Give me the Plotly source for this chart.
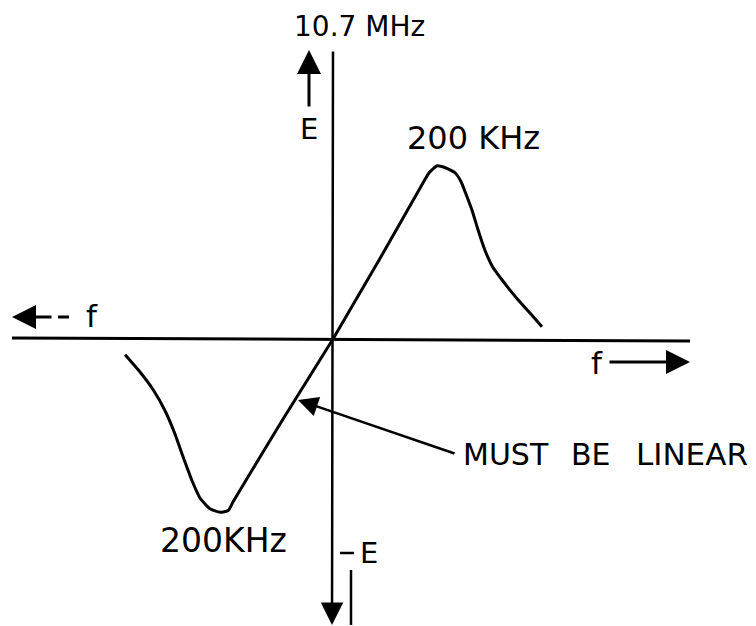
import plotly.graph_objects as go

# ---- data: discriminator S-curve (frequency offset from 10.7 MHz in kHz, normalized output E)
upper_f = [0, 87, 170, 178, 193, 207, 226, 237, 246, 257, 269, 281, 296, 315, 341, 370, 387]
upper_e = [0, 0.46, 0.91, 0.95, 0.99, 0.98, 0.95, 0.90, 0.83, 0.74, 0.62, 0.51, 0.41, 0.33, 0.23, 0.13, 0.07]
lower_f = [-385, -357, -333, -311, -293, -278, -261, -246, -228, -209, -194, -185, -93, 0]
lower_e = [-0.09, -0.19, -0.29, -0.41, -0.54, -0.67, -0.81, -0.91, -0.97, -0.99, -0.98, -0.93, -0.46, 0]

center_label = "10.7 MHz"
peak_label = "200 KHz"
trough_label = "200KHz"
note_words = ["MUST", "BE", "LINEAR"]

# ---- layout geometry (window pixel frame of the 756x626 page)
W, H = 756, 626
OFF = 8                  # default page margin around the plot div
PX0, PY0 = 333, 339      # origin pixel
SX, SY = 0.54, 175.0     # px per kHz, px per unit E


def X(px):
    return (px - PX0) / SX


def Y(py):
    return (PY0 - py) / SY


FONT = "DejaVu Sans, sans-serif"
LW = 3

fig = go.Figure()
for fx, ey in ((upper_f, upper_e), (lower_f, lower_e)):
    fig.add_trace(go.Scatter(x=fx, y=ey, mode="lines",
                             line=dict(color="black", width=LW, shape="spline", smoothing=0.5),
                             hoverinfo="skip", showlegend=False))

shapes = []


def seg(x0, y0, x1, y1, w=3):
    shapes.append(dict(type="line", x0=X(x0), y0=Y(y0), x1=X(x1), y1=Y(y1),
                       line=dict(color="black", width=w)))


seg(12, 338, 690, 341)          # horizontal axis
seg(58, 317, 69, 317)           # dash in "<--f"
seg(340, 553, 354, 553, 2.5)    # dash of "-E"
seg(351, 570, 351, 625, 2.5)    # small stroke next to -E

ann = []


def arrow(tx, ty, fx, fy, width=2.5, size=1.6, head=2):
    ann.append(dict(x=X(tx), y=Y(ty), ax=X(fx), ay=Y(fy), xref="x", yref="y",
                    axref="x", ayref="y", text="", showarrow=True,
                    arrowhead=head, arrowsize=size, arrowwidth=width,
                    arrowcolor="black", standoff=0, startstandoff=0))


def label(px, py, t, size=30):
    ann.append(dict(x=X(px), y=Y(py), xref="x", yref="y", text=t, showarrow=False,
                    font=dict(family=FONT, size=size, color="black"),
                    xanchor="center", yanchor="middle"))


arrow(332, 625, 333, 50, width=2.5, size=1.8)   # vertical axis, down arrow
arrow(309, 50, 309, 108, width=3, size=1.6)     # E up arrow
arrow(12, 317, 53, 317, width=3, size=1.6)      # left arrow
arrow(690, 362, 608, 362, width=3, size=1.6)    # right arrow
arrow(298, 400, 456, 454, width=2.5, size=1.6)  # pointer to linear region

label(359, 26, center_label, 28)
label(309, 129, "E", 29)
label(473, 138, peak_label, 32)
label(223, 540, trough_label, 33)
label(92, 316, "f", 31)
label(597, 363, "f", 31)
label(369, 553, "E", 29)
label(506, 454, note_words[0], 30)
label(591, 454, note_words[1], 30)
label(692, 454, note_words[2], 31)

fig.update_layout(
    width=W - OFF, height=H - OFF, autosize=False,
    margin=dict(l=0, r=0, t=0, b=0),
    paper_bgcolor="white", plot_bgcolor="white",
    xaxis=dict(range=[X(OFF), X(W)], visible=False, fixedrange=True),
    yaxis=dict(range=[Y(H), Y(OFF)], visible=False, fixedrange=True),
    shapes=shapes, annotations=ann, showlegend=False,
)

fig.write_html("out.html")
